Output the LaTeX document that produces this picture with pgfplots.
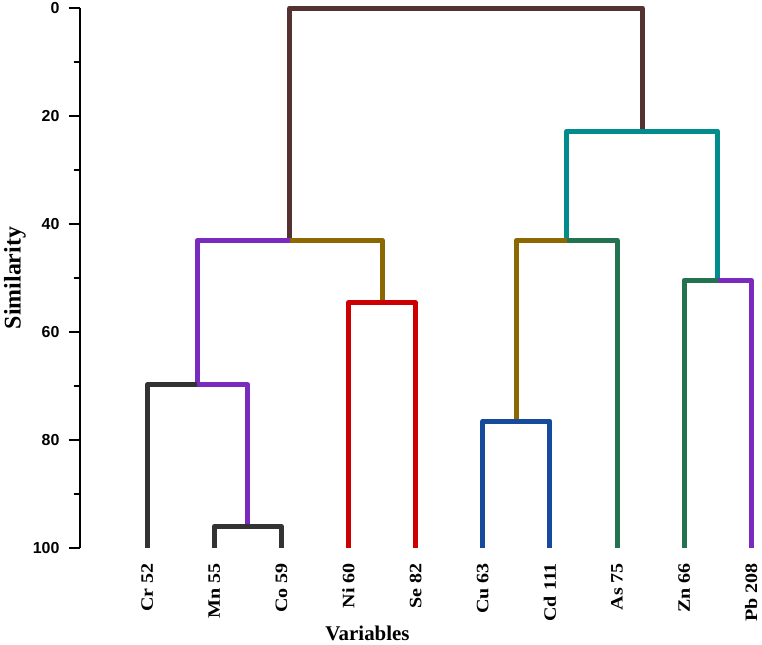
\documentclass[border=0pt]{standalone}
\usepackage{fontspec}
\setmainfont{Liberation Serif}
\setsansfont{Liberation Sans}
\usepackage{pgfplots}
\pgfplotsset{compat=1.18}
\definecolor{cgray}{RGB}{51,51,51}
\definecolor{cpurple}{RGB}{123,42,190}
\definecolor{cred}{RGB}{204,0,0}
\definecolor{colive}{RGB}{140,105,0}
\definecolor{cbrown}{RGB}{85,50,50}
\definecolor{cteal}{RGB}{0,140,140}
\definecolor{cgreen}{RGB}{35,115,80}
\definecolor{cblue}{RGB}{22,75,155}
\begin{document}
\begin{tikzpicture}
\begin{axis}[
  scale only axis, width=682bp, height=540bp,
  xmin=0, xmax=10.16, ymin=0, ymax=100,
  y dir=reverse,
  clip=false,
  axis y line*=left,
  axis x line*=bottom,
  x axis line style={draw=none},
  y axis line style={line width=2bp, black, -},
  xtick={1,...,10},
  xticklabels={Cr 52,Mn 55,Co 59,Ni 60,Se 82,Cu 63,Cd 111,As 75,Zn 66,Pb 208},
  xtick style={draw=none},
  xticklabel style={rotate=90, anchor=east, font=\fontsize{17.5}{17.5}\selectfont\bfseries, xscale=1.15},
  ytick={0,20,40,60,80,100},
  minor ytick={10,30,50,70,90},
  ytick style={line width=2bp, black},
  tick align=outside,
  major tick length=11bp, minor tick length=6bp,
  yticklabel style={font=\fontsize{16}{16}\selectfont\sffamily\bfseries, xshift=-6bp},
  /pgf/number format/assume math mode=true,
  ylabel={Similarity}, xlabel={Variables},
  ylabel style={font=\fontsize{24}{24}\selectfont\bfseries, at={(axis description cs:-0.0953,0.5)}, anchor=center},
  xlabel style={font=\fontsize{21}{21}\selectfont\bfseries, at={(axis description cs:0.4216,-0.159)}, anchor=center},
  every axis plot/.append style={line width=5bp, line join=round},
]
\addplot[cbrown] coordinates {(3.125,43) (3.125,0) (8.375,0) (8.375,22.8)};
\addplot[cteal] coordinates {(7.25,43) (7.25,22.8) (9.5,22.8) (9.5,50.4)};
\addplot[cpurple] coordinates {(2.5,96) (2.5,69.8) (1.75,69.8) (1.75,43) (3.125,43)};
\addplot[colive] coordinates {(4.5,54.6) (4.5,43) (3.125,43)};
\addplot[colive] coordinates {(6.5,76.5) (6.5,43) (7.25,43)};
\addplot[cgreen] coordinates {(8,100) (8,43) (7.25,43)};
\addplot[cgreen] coordinates {(9,100) (9,50.4) (9.5,50.4)};
\addplot[cpurple] coordinates {(10,100) (10,50.4) (9.5,50.4)};
\addplot[cred] coordinates {(4,100) (4,54.6) (5,54.6) (5,100)};
\addplot[cblue] coordinates {(6,100) (6,76.5) (7,76.5) (7,100)};
\addplot[cgray] coordinates {(1,100) (1,69.8) (1.75,69.8)};
\addplot[cgray] coordinates {(2,100) (2,96) (3,96) (3,100)};
\coordinate (BL) at (axis cs:0,100);
\coordinate (TR) at (axis cs:10.16,0);
\end{axis}
\pgfresetboundingbox
\useasboundingbox ([shift={(-80bp,-97bp)}]BL) rectangle ([shift={(0bp,8bp)}]TR);
\end{tikzpicture}
\end{document}
